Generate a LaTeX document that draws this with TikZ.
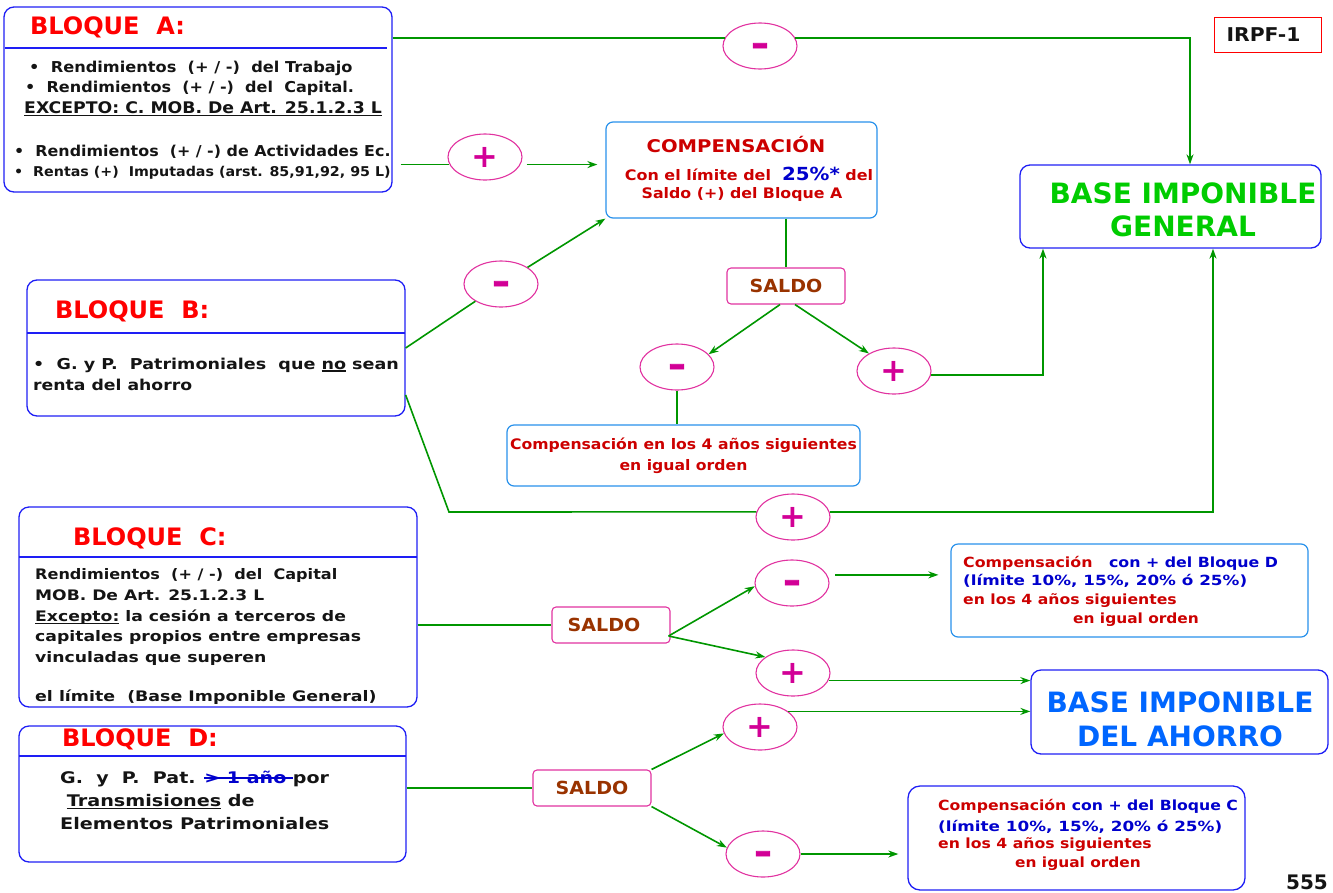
\documentclass[tikz,border=0pt]{standalone}
\usepackage{fontspec}
\setmainfont{DejaVu Sans}
\usetikzlibrary{arrows.meta,shapes.geometric}

\definecolor{azulbloque}{RGB}{30,30,245}
\definecolor{azulclaro}{RGB}{40,145,235}
\definecolor{rosa}{RGB}{225,50,160}
\definecolor{magentasigno}{RGB}{210,0,150}
\definecolor{verde}{RGB}{0,150,0}
\definecolor{rojo}{RGB}{255,0,0}
\definecolor{rojooscuro}{RGB}{204,0,0}
\definecolor{azultexto}{RGB}{0,0,204}
\definecolor{marron}{RGB}{153,51,0}
\definecolor{verdetexto}{RGB}{0,204,0}
\definecolor{azulahorro}{RGB}{0,102,255}
\definecolor{negro}{RGB}{20,20,20}

% tamaño, interlineado y ensanche de la letra
\newcommand{\letra}[3][1]{\fontsize{#2}{#3}\selectfont\bfseries\addfontfeature{FakeStretch=#1}}
\newsavebox{\cajatexto}
\newcommand{\subrayado}[1]{\sbox{\cajatexto}{#1}\rlap{\rule[-2.6pt]{\wd\cajatexto}{1.2pt}}\usebox{\cajatexto}}
\newcommand{\tachado}[1]{\sbox{\cajatexto}{#1}\rlap{\rule[0.3em]{\wd\cajatexto}{1.3pt}}\usebox{\cajatexto}}

\begin{document}
\begin{tikzpicture}[x=1pt, y=-1pt,
        bloque/.style={draw=azulbloque, line width=1.3pt, rounded corners=10pt, inner sep=0pt},
        caja/.style={draw=azulclaro, line width=1.2pt, rounded corners=7pt, inner sep=0pt},
        saldo/.style={draw=rosa, line width=1.1pt, rounded corners=4pt, minimum width=118pt, minimum height=36pt, text=marron, font={\letra[1.06]{18}{20}}},
        signo/.style={ellipse, draw=rosa, line width=1.1pt, minimum width=74pt, minimum height=46pt, inner sep=0pt, text=magentasigno, font=\letra{32}{32}},
        menos/.style={signo, text height=19pt, text depth=0pt, font={\letra[1.3]{34}{34}\addfontfeature{FakeBold=2}}},
        linea/.style={verde, line width=1.6pt},
        flecha/.style={linea, -{Stealth[length=10pt, width=7pt]}},
        titulo/.style={anchor=west, inner sep=0pt, text=rojo, font=\letra{24}{28}},
        texto/.style={anchor=west, inner sep=0pt, text=negro},
        divisor/.style={azulbloque, line width=1.2pt}
    ]
    \useasboundingbox (0,0) rectangle (1333,892);

    % Bloque A
    \node[bloque, minimum width=388pt, minimum height=185pt] (bloqueA) at (198,99.5) {};
    \draw[divisor] (5,48) -- (387,48);
    \node[titulo] (titA) at (30,27) {BLOQUE\ \ A:};
    \node[texto, font={\letra[1.08]{15}{18}}] (a1) at (29,68) {•\ \ Rendimientos\ \ (+ / -)\ \ del Trabajo};
    \node[texto, font={\letra[1.07]{15}{18}}] (a2) at (25,88) {•\ \ Rendimientos\ \ (+ / -)\ \ del\ \ Capital.};
    \node[texto, font={\letra[1.08]{16}{18}}] (a3) at (24,109) {\subrayado{EXCEPTO: C. MOB. De Art. 25.1.2.3 L}};
    \node[texto, font={\letra[1.06]{15}{18}}] (a4) at (14,152) {•\ \ Rendimientos\ \ (+ / -) de Actividades Ec.};
    \node[texto, font={\letra[1.056]{13.5}{16}}] (a5) at (14,173) {•\ \ Rentas (+)\ \ Imputadas (arst. 85,91,92, 95 L)};

    % Bloque B
    \node[bloque, minimum width=378pt, minimum height=136pt] (bloqueB) at (216,348) {};
    \draw[divisor] (27,333) -- (405,333);
    \node[titulo] (titB) at (55,311) {BLOQUE\ \ B:};
    \node[texto, font={\letra[1.17]{15}{18}}] (b1) at (33,365) {•\ \ G. y P.\ \ Patrimoniales\ \ que \subrayado{no} sean};
    \node[texto, font={\letra[1.15]{15}{18}}] (b2) at (33,385) {renta del ahorro};

    % Bloque C
    \node[bloque, minimum width=398pt, minimum height=200pt] (bloqueC) at (218,607) {};
    \draw[divisor] (19,557) -- (417,557);
    \node[titulo] (titC) at (73,538) {BLOQUE\ \ C:};
    \node[texto, font={\letra[1.11]{14.5}{18}}] (c1) at (35,575) {Rendimientos\ \ (+ / -)\ \ del\ \ Capital};
    \node[texto, font={\letra[1.18]{14.5}{18}}] (c2) at (35,595) {MOB. De Art. 25.1.2.3 L};
    \node[texto, font={\letra[1.19]{14.5}{18}}] (c3) at (35,617) {\subrayado{Excepto:} la cesión a terceros de};
    \node[texto, font={\letra[1.19]{14.5}{18}}] (c4) at (35,637) {capitales propios entre empresas};
    \node[texto, font={\letra[1.19]{14.5}{18}}] (c5) at (35,658) {vinculadas que superen};
    \node[texto, font={\letra[1.2]{14.5}{18}}] (c6) at (35,697) {el límite\ \ (Base Imponible General)};

    % Bloque D
    \node[bloque, minimum width=387pt, minimum height=136pt] (bloqueD) at (212.5,794) {};
    \draw[divisor] (19,756) -- (406,756);
    \node[titulo] (titD) at (62,739) {BLOQUE\ \ D:};
    \node[texto, font={\letra[1.19]{16}{18}}] (d1) at (60,779) {G.\ \ y\ \ P.\ \ Pat. {\color{azultexto}\tachado{> 1 año\ }}por};
    \node[texto, font={\letra[1.2]{16}{18}}] (d2) at (60,802) {\ \subrayado{Transmisiones} de};
    \node[texto, font={\letra[1.2]{16}{18}}] (d3) at (60,824) {Elementos Patrimoniales};

    % Compensaciones
    \node[caja, minimum width=271pt, minimum height=96pt] (comp) at (741.5,170) {};
    \node[text=rojooscuro, font={\letra[1.12]{17.5}{20}}] (tComp1) at (736,145) {COMPENSACIÓN};
    \node[text=rojooscuro, font={\letra[1.1]{14.5}{18}}] (tComp2) at (749,174) {Con el límite del\ \ {\color{azultexto}\letra[1.1]{18}{20}25\%*} del};
    \node[text=rojooscuro, font={\letra[1.09]{14.5}{18}}] (tComp3) at (742,194) {Saldo (+) del Bloque A};
    \node[caja, minimum width=353pt, minimum height=61pt, text=rojooscuro, font={\letra[1.08]{14.5}{21}}, align=center] (comp4) at (683.5,455.5) {Compensación en los 4 años siguientes\\en igual orden};

    \node[caja, minimum width=357pt, minimum height=93pt] (compSC) at (1129.5,590.5) {};
    \node[texto, text=rojooscuro, font={\letra[1.13]{14}{17}}] (sc1) at (963,563) {Compensación\ \ \ {\color{azultexto}con + del Bloque D}};
    \node[texto, text=azultexto, font={\letra[1.2]{14}{17}}] (sc2) at (963,581) {(límite 10\%, 15\%, 20\% ó 25\%)};
    \node[texto, text=rojooscuro, font={\letra[1.12]{14}{17}}] (sc3) at (963,601) {en los 4 años siguientes};
    \node[texto, text=rojooscuro, font={\letra[1.1]{14}{17}}] (sc4) at (1073,620) {en igual orden};

    \node[bloque, rounded corners=12pt, minimum width=337pt, minimum height=104pt] (compSD) at (1076.5,838) {};
    \node[texto, text=rojooscuro, font={\letra[1.12]{14}{17}}] (sd1) at (938,806) {Compensación {\color{azultexto}con + del Bloque C}};
    \node[texto, text=azultexto, font={\letra[1.2]{14}{17}}] (sd2) at (938,827) {(límite 10\%, 15\%, 20\% ó 25\%)};
    \node[texto, text=rojooscuro, font={\letra[1.12]{14}{17}}] (sd3) at (938,845) {en los 4 años siguientes};
    \node[texto, text=rojooscuro, font={\letra[1.1]{14}{17}}] (sd4) at (1015,864) {en igual orden};

    % Bases imponibles y rótulos
    \node[bloque, minimum width=301pt, minimum height=83pt] (baseGen) at (1170.5,206.5) {};
    \node[text=verdetexto, font=\letra{28}{33}, align=center] (tBaseGen) at (1183,209.5) {BASE IMPONIBLE\\GENERAL};
    \node[bloque, minimum width=297pt, minimum height=84pt] (baseAho) at (1179.5,712) {};
    \node[text=azulahorro, font=\letra{28}{34}, align=center] (tBaseAho) at (1180,719) {BASE IMPONIBLE\\DEL AHORRO};
    \node[draw=rojo, line width=1pt, minimum width=107pt, minimum height=35pt, inner sep=0pt] (irpf) at (1267.5,34.5) {};
    \node[text=negro, font={\letra[1.07]{19}{22}}] (tIrpf) at (1263.5,35) {IRPF-1};
    \node[text=negro, font=\letra{20}{24}] (pagina) at (1307,882) {555};

    % Saldos
    \node[saldo] (saldoB) at (786,286) {SALDO};
    \node[saldo] (saldoC) at (611,625) {SALDO\hspace*{14pt}};
    \node[saldo] (saldoD) at (592,788) {SALDO};

    % Signos
    \node[menos] (menosA) at (760,46) {-};
    \node[signo] (masA) at (485,157) {+};
    \node[menos] (menosB) at (501,284) {-};
    \node[menos] (menosSB) at (677,367) {-};
    \node[signo] (masSB) at (894,371) {+};
    \node[signo] (masB) at (793,517) {+};
    \node[menos] (menosSC) at (792,583) {-};
    \node[signo] (masSC) at (793,673) {+};
    \node[signo] (masSD) at (760,727) {+};
    \node[menos] (menosSD) at (763,854) {-};

    \coordinate (codoB) at (449,512);
    \coordinate (salidaC) at ([xshift=-2pt, yshift=-11pt]saldoC.east);

    % Conexiones del bloque A
    \draw[linea] (bloqueA.east |- menosA.167) -- (menosA.167);
    \draw[flecha] (menosA.13) -| ([xshift=19.5pt]baseGen.north);
    \draw[linea] ([xshift=8pt]bloqueA.east |- masA.192) -- (masA.192);
    \draw[flecha] ([xshift=6pt]masA.348) -- ([xshift=-8pt]comp.west |- masA.348);

    % Conexiones del bloque B
    \draw[linea] (bloqueB.east) -- (menosB);
    \draw[flecha] (menosB) -- (comp.south west);
    \draw[linea] (comp.south -| saldoB.north) -- (saldoB.north);
    \draw[flecha] ([xshift=-6pt]saldoB.south) -- (menosSB.22);
    \draw[flecha] ([xshift=9pt]saldoB.south) -- (masSB.145);
    \draw[flecha] (masSB.354) -| ([xshift=-127.5pt]baseGen.south);
    \draw[linea] (menosSB.south) -- (menosSB.south |- comp4.north);
    \draw[linea] ([yshift=-47pt]bloqueB.east) -- (codoB) -- (masB.172);
    \draw[flecha] (masB.8) -| ([xshift=42.5pt]baseGen.south);

    % Conexiones del bloque C
    \draw[linea] (bloqueC.east |- saldoC.west) -- (saldoC.west);
    \draw[flecha] (salidaC) -- (menosSC.185);
    \draw[flecha] (salidaC) -- (masSC.150);
    \draw[flecha] ([xshift=8pt]menosSC.13) -- ([xshift=-12pt]compSC.west |- menosSC.13);
    \draw[flecha] (masSC.348) -- (baseAho.west |- masSC.348);

    % Conexiones del bloque D
    \draw[linea] (bloqueD.east |- saldoD.west) -- (saldoD.west);
    \draw[flecha] (saldoD.north east) -- (masSD.190);
    \draw[flecha] (saldoD.south east) -- (menosSD.170);
    \draw[flecha] (masSD.29) -- (baseAho.west |- masSD.29);
    \draw[flecha] (menosSD.east) -- ([xshift=-9pt]compSD.west |- menosSD.east);

\end{tikzpicture}
\end{document}
